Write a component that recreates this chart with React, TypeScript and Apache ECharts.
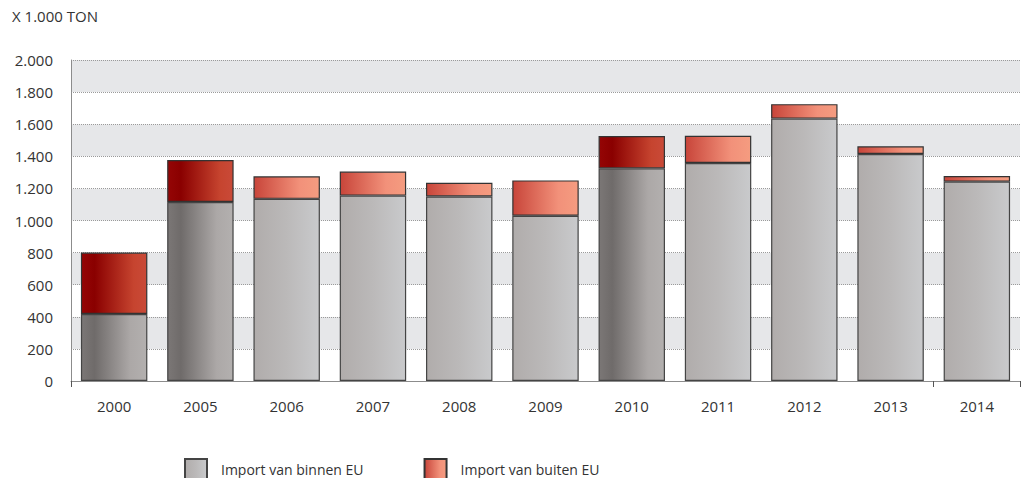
import React, { useEffect, useRef } from "react";
import * as echarts from "echarts";

const categories = ["2000", "2005", "2006", "2007", "2008", "2009", "2010", "2011", "2012", "2013", "2014"];
const binnenEU = [417, 1115, 1135, 1155, 1150, 1030, 1325, 1358, 1635, 1414, 1242];
const buitenEU = [383, 262, 140, 150, 85, 220, 201, 170, 90, 48, 35];
const darkBars = ["2000", "2005", "2010"];
const yTicks = [0, 200, 400, 600, 800, 1000, 1200, 1400, 1600, 1800, 2000];

const lg = (stops: [number, string][]) =>
  new echarts.graphic.LinearGradient(0, 0, 1, 0, stops.map(([offset, color]) => ({ offset, color })));

const grayLight = () => lg([[0, "#b0acab"], [0.5, "#bbb9b9"], [1, "#c9cacc"]]);
const grayDark = () => lg([[0, "#7b7776"], [0.2, "#6f6b6a"], [0.75, "#aca8a7"], [1, "#b3b0af"]]);
const redLight = () => lg([[0, "#c8453a"], [0.7, "#f2917a"], [1, "#f59c80"]]);
const redDark = () => lg([[0, "#950505"], [0.2, "#8a0000"], [0.8, "#c6442f"], [1, "#c94a38"]]);

export default function App() {
  const ref = useRef<HTMLDivElement>(null);
  useEffect(() => {
    if (!ref.current) return;
    const chart = echarts.init(ref.current, null, { renderer: "svg" });
    const fmt = (v: number) => String(v).replace(/\B(?=(\d{3})+(?!\d))/g, ".");
    chart.setOption({
      animation: false,
      textStyle: { fontFamily: "Open Sans" },
      grid: { left: 71, right: 5, top: 60, bottom: 97 },
      graphic: [
        {
          type: "text",
          left: 12,
          top: 8,
          style: { text: "X 1.000 TON", fontSize: 15, fill: "#333", fontFamily: "Open Sans" },
        },
      ],
      legend: {
        left: 179,
        top: 453,
        itemWidth: 22,
        itemHeight: 20,
        itemGap: 60,
        icon: "rect",
        textStyle: { fontSize: 14, color: "#333", padding: [0, 0, 0, 9] },
        data: ["Import van binnen EU", "Import van buiten EU"],
      },
      xAxis: {
        type: "category",
        data: categories,
        axisLine: { lineStyle: { color: "#8c8c8c", width: 1 } },
        axisTick: {
          show: true,
          length: 6,
          lineStyle: { color: "#555" },
          interval: (i: number) => i === 0 || i === 10,
        },
        axisLabel: { fontSize: 15, color: "#333", margin: 17 },
      },
      yAxis: {
        type: "value",
        min: 0,
        max: 2000,
        interval: 200,
        axisLine: { show: true, lineStyle: { color: "#8c8c8c" } },
        axisTick: { show: false },
        axisLabel: { fontSize: 15, color: "#333", margin: 18, formatter: (v: number) => (yTicks.includes(v) ? fmt(v) : "") },
        splitLine: { show: true, lineStyle: { color: "#9a9a9a", type: "dotted", width: 1 } },
        splitArea: { show: true, areaStyle: { color: ["#ffffff", "#e6e7e9"] } },
      },
      series: [
        {
          name: "Import van binnen EU",
          type: "bar",
          stack: "total",
          barWidth: "77%",
          itemStyle: { color: grayLight(), borderColor: "#444", borderWidth: 1.2 },
          data: binnenEU.map((v, i) => ({
            value: v,
            itemStyle: { color: darkBars.includes(categories[i]) ? grayDark() : grayLight() },
          })),
        },
        {
          name: "Import van buiten EU",
          type: "bar",
          stack: "total",
          barWidth: "77%",
          itemStyle: { color: redLight(), borderColor: "#333", borderWidth: 1.2 },
          data: buitenEU.map((v, i) => ({
            value: v,
            itemStyle: { color: darkBars.includes(categories[i]) ? redDark() : redLight() },
          })),
        },
      ],
    });
    return () => chart.dispose();
  }, []);
  return <div ref={ref} style={{ position: "absolute", left: 0, top: 0, width: 1025, height: 478 }} />;
}
